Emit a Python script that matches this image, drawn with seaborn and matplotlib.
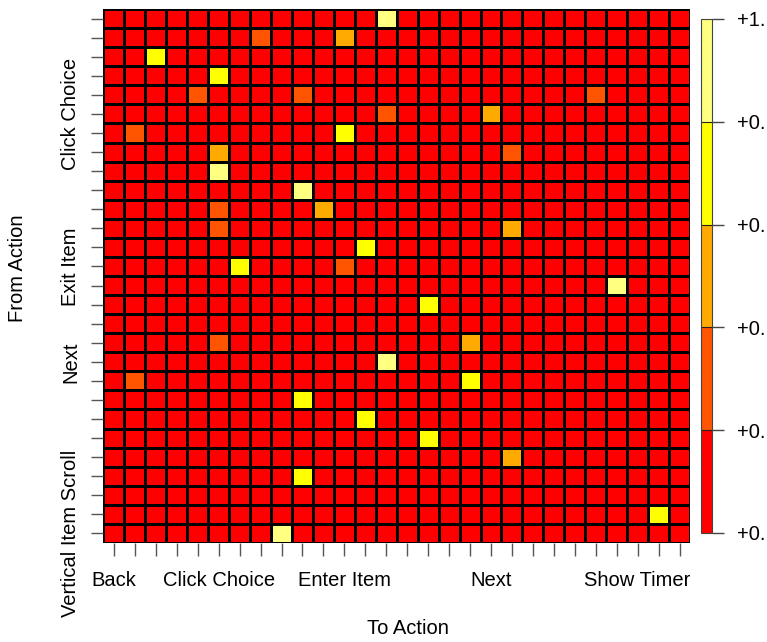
import numpy as np
import seaborn as sns
import matplotlib.pyplot as plt
from matplotlib.colors import ListedColormap

plt.rcParams['font.family'] = ['Liberation Sans', 'DejaVu Sans']

# Data

n_actions = 28

# only these action names are printed on the axes in the original
x_label_idx = [0, 5, 11, 18, 25]
x_label_txt = ['Back', 'Click Choice', 'Enter Item', 'Next', 'Show Timer']
y_label_idx = [5, 13, 18, 27]
y_label_txt = ['Click Choice', 'Exit Item', 'Next', 'Vertical Item Scroll']

# non-red cells of the transition matrix (everything else ~0)
from_idx = [0, 1, 1, 2, 3, 4, 4, 4, 5, 5, 6, 6, 7, 7, 8, 9, 10, 10, 11, 11,
            12, 13, 13, 14, 15, 17, 17, 18, 19, 19, 20, 21, 22, 23, 24, 26, 27]
to_idx = [13, 7, 11, 2, 5, 4, 9, 23, 13, 18, 1, 11, 5, 19, 5, 9, 5, 10, 5, 19,
          12, 6, 11, 24, 15, 5, 17, 13, 1, 17, 9, 12, 15, 19, 9, 26, 8]
probs = [0.90, 0.30, 0.50, 0.70, 0.70, 0.30, 0.30, 0.30, 0.35, 0.50, 0.30, 0.70,
         0.50, 0.30, 0.90, 0.85, 0.30, 0.45, 0.30, 0.50, 0.75, 0.70, 0.30, 0.90,
         0.70, 0.30, 0.50, 0.85, 0.30, 0.65, 0.70, 0.70, 0.75, 0.55, 0.70, 0.75, 0.90]

heat_colors = ['#FF0000', '#FF5500', '#FFAA00', '#FFFF00', '#FFFF80']
key_ticks = [0.0, 0.2, 0.4, 0.6, 0.8, 1.0]
# key labels as they appear in the original (cut at the right border)
key_labels = ['+0.', '+0.', '+0.', '+0.', '+0.', '+1.']

mat = np.zeros((n_actions, n_actions))
mat[from_idx, to_idx] = probs

# Plot

W, H = 767, 642
fig = plt.figure(figsize=(W / 100, H / 100), dpi=100)
ax = fig.add_axes([103.5 / W, 1 - 543 / H, 586.5 / W, 534 / H])
cax = fig.add_axes([700.5 / W, 1 - 533 / H, 11 / W, 514 / H])

sns.heatmap(mat, ax=ax, cbar_ax=cax, cmap=ListedColormap(heat_colors),
            vmin=0, vmax=1, linewidths=1.0, linecolor='black',
            square=False, cbar_kws={'drawedges': True})

fs = 14.5
ax.set_xticks(np.arange(n_actions) + 0.5)
xl = [''] * n_actions
for i, t in zip(x_label_idx, x_label_txt):
    xl[i] = t
ax.set_xticklabels(xl, rotation=0, fontsize=fs)

ax.set_yticks(np.arange(n_actions) + 0.5)
yl = [''] * n_actions
for i, t in zip(y_label_idx, y_label_txt):
    yl[i] = t
ax.set_yticklabels(yl, rotation=90, va='center', fontsize=fs)

ax.tick_params(axis='x', length=9.5, width=1, color='#555555', pad=11)
ax.tick_params(axis='y', length=9, width=1, color='#555555', pad=8)

cbar = ax.collections[0].colorbar
cbar.set_ticks(key_ticks)
cbar.set_ticklabels(key_labels)
cbar.ax.tick_params(length=8.6, width=1, color='#444444', pad=9.6, labelsize=fs)
cbar.outline.set_edgecolor('#444444')
cbar.outline.set_linewidth(0.8)
cbar.dividers.set_color('#222222')
cbar.dividers.set_linewidth(0.8)

fig.text(408 / W, 1 - 628 / H, 'To Action', ha='center', va='center', fontsize=fs)
fig.text(18 / W, 1 - 268 / H, 'From Action', ha='center', va='center',
         rotation=90, fontsize=fs)

fig.savefig('out.png', dpi=100)
